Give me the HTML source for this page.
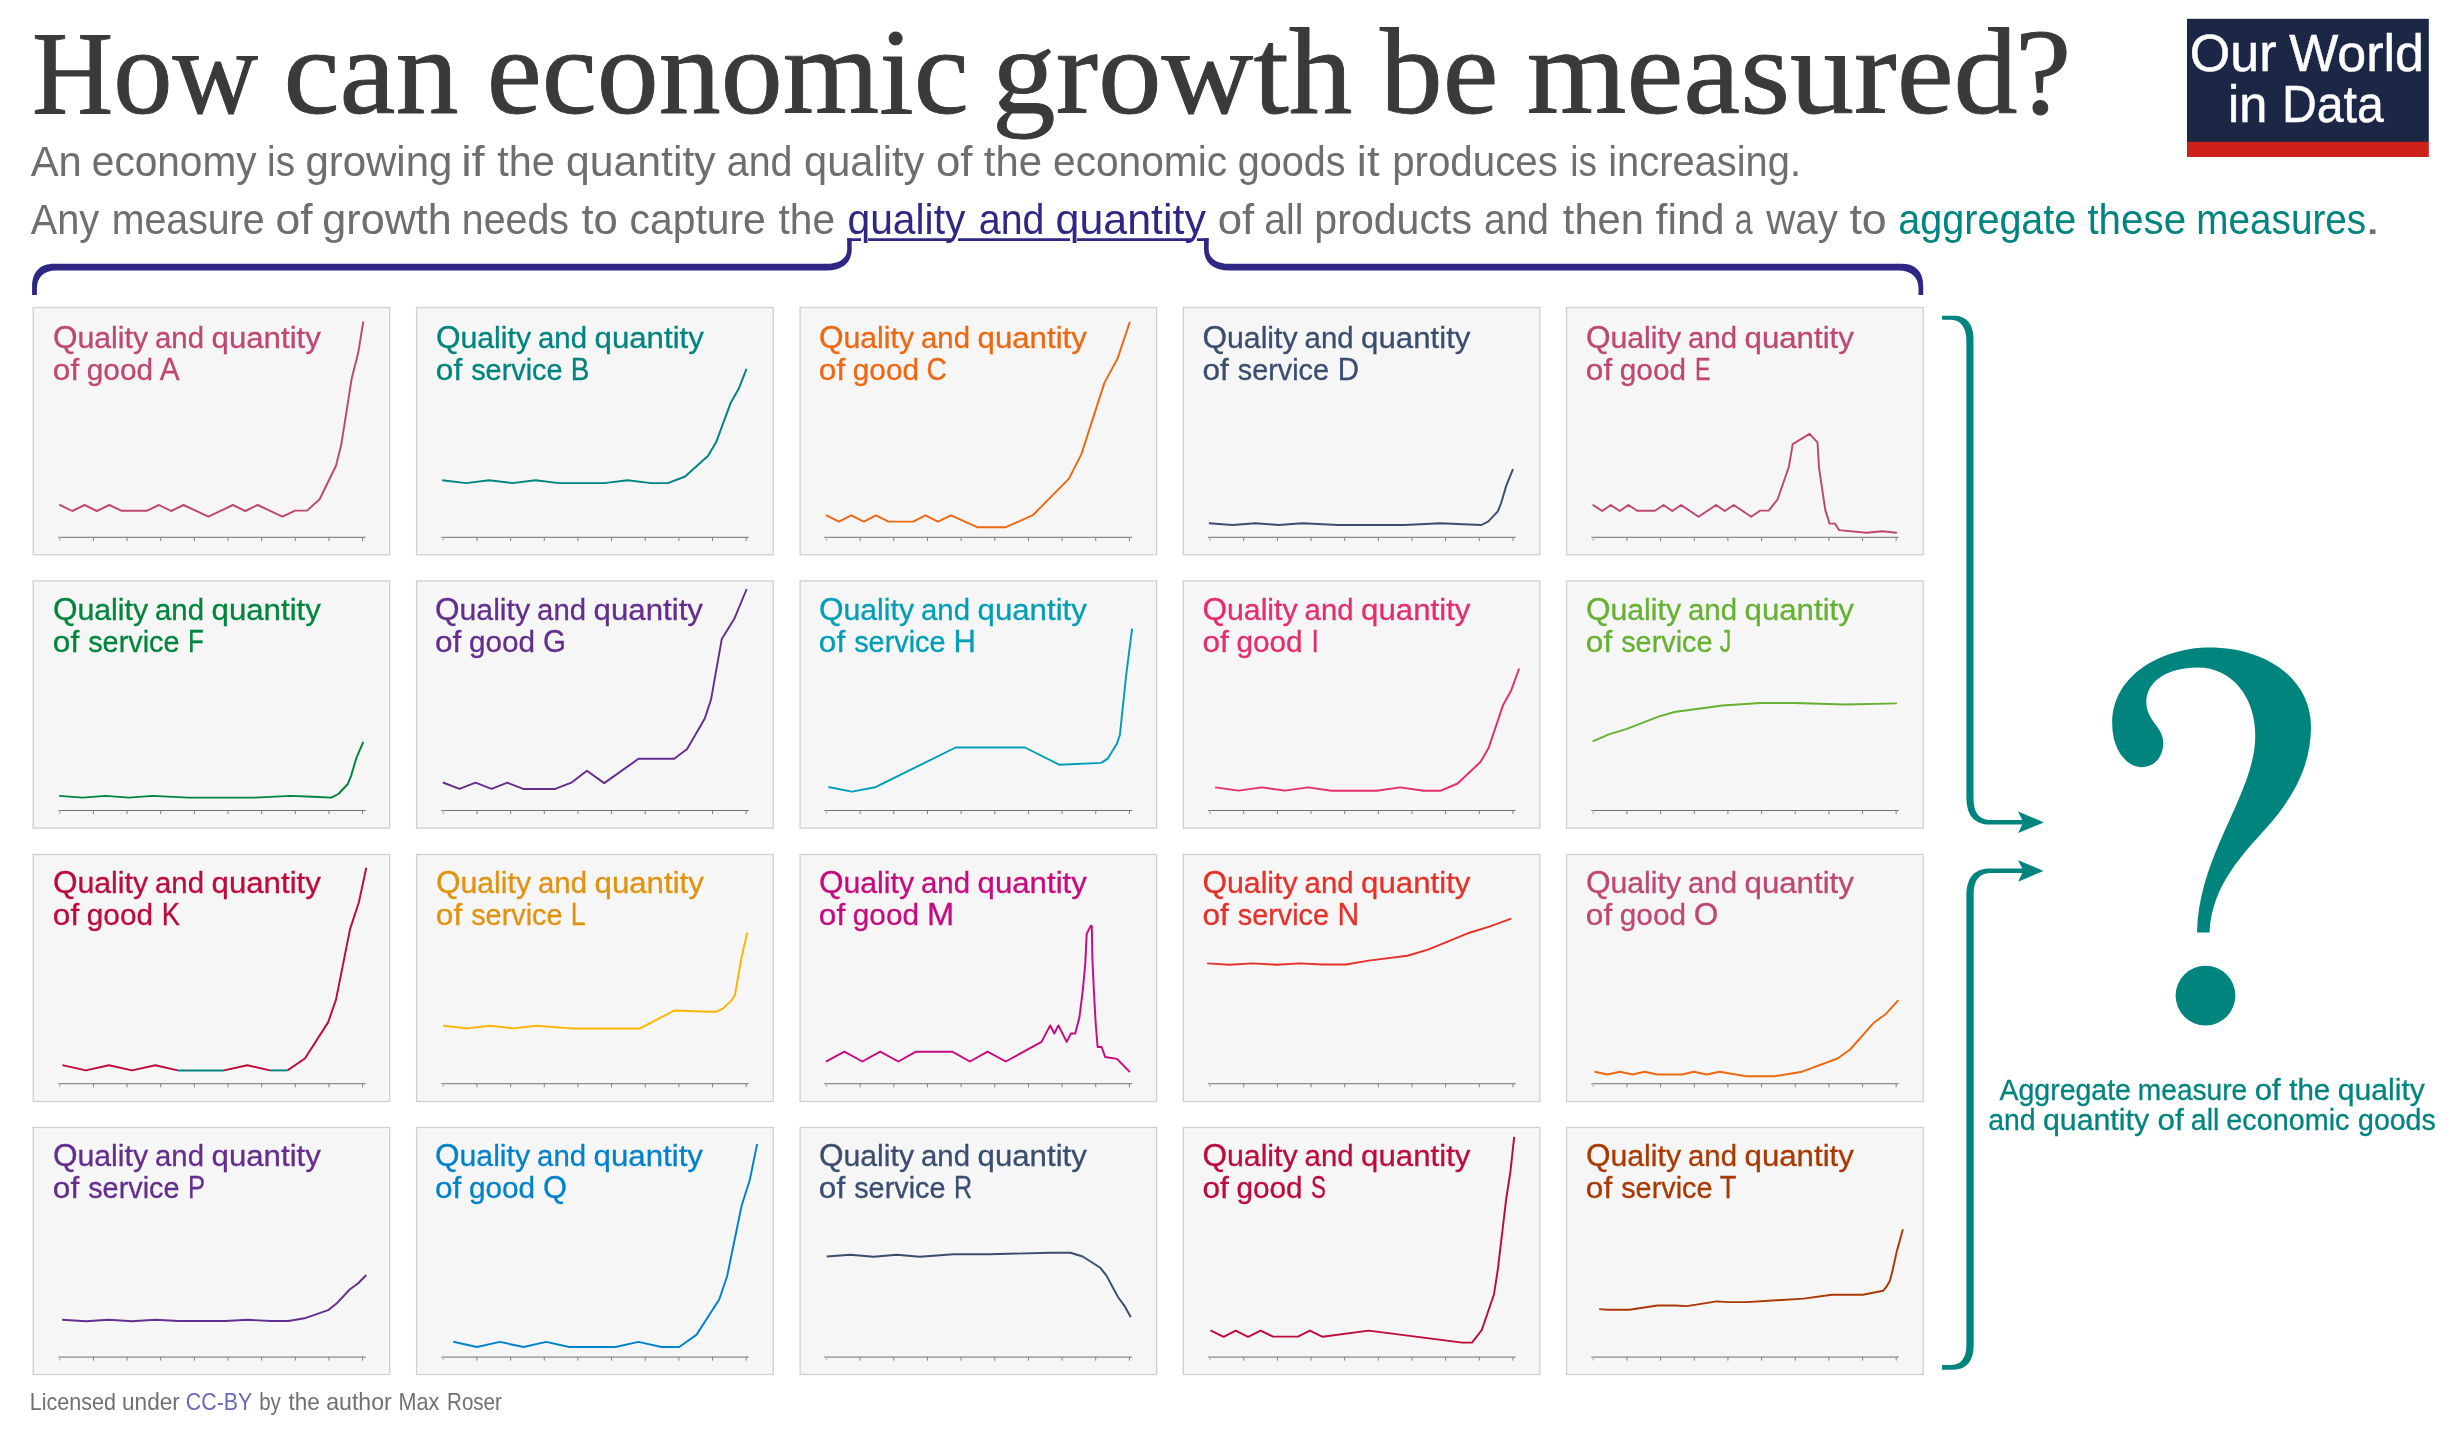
<!DOCTYPE html>
<html><head><meta charset="utf-8"><title>How can economic growth be measured?</title>
<style>
html,body{margin:0;padding:0;background:#ffffff;}
body{width:2454px;height:1433px;overflow:hidden;font-family:"Liberation Sans",sans-serif;}
svg{display:block;will-change:transform;}
text{white-space:pre;}
</style></head><body>
<svg width="2454" height="1433" viewBox="0 0 2454 1433">
<rect width="2454" height="1433" fill="#ffffff"/>
<text transform="translate(31.95,112.90) scale(0.9488,1)" font-family='"Liberation Serif", serif' font-size="118.6" font-weight="normal" fill="#3a3a3a" stroke="#3a3a3a" stroke-width="0.9" stroke-linejoin="round">H</text>
<text transform="translate(113.14,112.90) scale(0.9638,1)" font-family='"Liberation Serif", serif' font-size="123" font-weight="normal" fill="#3a3a3a" stroke="#3a3a3a" stroke-width="0.9" stroke-linejoin="round">ow</text>
<text transform="translate(283.50,112.90) scale(1.0255,1)" font-family='"Liberation Serif", serif' font-size="123" font-weight="normal" fill="#3a3a3a" stroke="#3a3a3a" stroke-width="0.9" stroke-linejoin="round">can</text>
<text transform="translate(486.67,112.90) scale(1.0086,1)" font-family='"Liberation Serif", serif' font-size="123" font-weight="normal" fill="#3a3a3a" stroke="#3a3a3a" stroke-width="0.9" stroke-linejoin="round">economic</text>
<text transform="translate(992.03,112.90) scale(1.0343,1)" font-family='"Liberation Serif", serif' font-size="123" font-weight="normal" fill="#3a3a3a" stroke="#3a3a3a" stroke-width="0.9" stroke-linejoin="round">growth</text>
<text transform="translate(1380.00,112.90) scale(1.0196,1)" font-family='"Liberation Serif", serif' font-size="123" font-weight="normal" fill="#3a3a3a" stroke="#3a3a3a" stroke-width="0.9" stroke-linejoin="round">be</text>
<text transform="translate(1526.82,112.90) scale(1.0415,1)" font-family='"Liberation Serif", serif' font-size="123" font-weight="normal" fill="#3a3a3a" stroke="#3a3a3a" stroke-width="0.9" stroke-linejoin="round">measured</text>
<text transform="translate(2015.01,112.90) scale(1.0318,1)" font-family='"Liberation Serif", serif' font-size="123" font-weight="normal" fill="#3a3a3a" stroke="#3a3a3a" stroke-width="0.9" stroke-linejoin="round">?</text>
<text transform="translate(30.70,175.80) scale(0.9956,1)" font-family='"Liberation Sans", sans-serif' font-size="42" font-weight="normal" fill="#6e6e6e" >An</text>
<text transform="translate(91.83,175.80) scale(0.9668,1)" font-family='"Liberation Sans", sans-serif' font-size="42" font-weight="normal" fill="#6e6e6e" >economy</text>
<text transform="translate(267.06,175.80) scale(0.9184,1)" font-family='"Liberation Sans", sans-serif' font-size="42" font-weight="normal" fill="#6e6e6e" >is</text>
<text transform="translate(305.40,175.80) scale(0.9991,1)" font-family='"Liberation Sans", sans-serif' font-size="42" font-weight="normal" fill="#6e6e6e" >growing</text>
<text transform="translate(461.15,175.80) scale(1.1225,1)" font-family='"Liberation Sans", sans-serif' font-size="42" font-weight="normal" fill="#6e6e6e" >if</text>
<text transform="translate(497.20,175.80) scale(0.9890,1)" font-family='"Liberation Sans", sans-serif' font-size="42" font-weight="normal" fill="#6e6e6e" >the</text>
<text transform="translate(565.98,175.80) scale(1.0178,1)" font-family='"Liberation Sans", sans-serif' font-size="42" font-weight="normal" fill="#6e6e6e" >quantity</text>
<text transform="translate(726.76,175.80) scale(0.9368,1)" font-family='"Liberation Sans", sans-serif' font-size="42" font-weight="normal" fill="#6e6e6e" >and</text>
<text transform="translate(804.01,175.80) scale(0.9908,1)" font-family='"Liberation Sans", sans-serif' font-size="42" font-weight="normal" fill="#6e6e6e" >quality</text>
<text transform="translate(935.96,175.80) scale(1.0420,1)" font-family='"Liberation Sans", sans-serif' font-size="42" font-weight="normal" fill="#6e6e6e" >of</text>
<text transform="translate(983.80,175.80) scale(0.9960,1)" font-family='"Liberation Sans", sans-serif' font-size="42" font-weight="normal" fill="#6e6e6e" >the</text>
<text transform="translate(1053.03,175.80) scale(0.9682,1)" font-family='"Liberation Sans", sans-serif' font-size="42" font-weight="normal" fill="#6e6e6e" >economic</text>
<text transform="translate(1237.86,175.80) scale(0.9419,1)" font-family='"Liberation Sans", sans-serif' font-size="42" font-weight="normal" fill="#6e6e6e" >goods</text>
<text transform="translate(1356.85,175.80) scale(1.0760,1)" font-family='"Liberation Sans", sans-serif' font-size="42" font-weight="normal" fill="#6e6e6e" >it</text>
<text transform="translate(1392.18,175.80) scale(0.9589,1)" font-family='"Liberation Sans", sans-serif' font-size="42" font-weight="normal" fill="#6e6e6e" >produces</text>
<text transform="translate(1570.24,175.80) scale(0.8781,1)" font-family='"Liberation Sans", sans-serif' font-size="42" font-weight="normal" fill="#6e6e6e" >is</text>
<text transform="translate(1608.20,175.80) scale(0.9497,1)" font-family='"Liberation Sans", sans-serif' font-size="42" font-weight="normal" fill="#6e6e6e" >increasing.</text>
<text transform="translate(30.70,233.60) scale(0.9465,1)" font-family='"Liberation Sans", sans-serif' font-size="42" font-weight="normal" fill="#6e6e6e" >Any</text>
<text transform="translate(111.73,233.60) scale(0.9353,1)" font-family='"Liberation Sans", sans-serif' font-size="42" font-weight="normal" fill="#6e6e6e" >measure</text>
<text transform="translate(275.54,233.60) scale(1.0594,1)" font-family='"Liberation Sans", sans-serif' font-size="42" font-weight="normal" fill="#6e6e6e" >of</text>
<text transform="translate(322.37,233.60) scale(1.0269,1)" font-family='"Liberation Sans", sans-serif' font-size="42" font-weight="normal" fill="#6e6e6e" >growth</text>
<text transform="translate(461.83,233.60) scale(0.9360,1)" font-family='"Liberation Sans", sans-serif' font-size="42" font-weight="normal" fill="#6e6e6e" >needs</text>
<text transform="translate(581.40,233.60) scale(1.0395,1)" font-family='"Liberation Sans", sans-serif' font-size="42" font-weight="normal" fill="#6e6e6e" >to</text>
<text transform="translate(629.53,233.60) scale(0.9729,1)" font-family='"Liberation Sans", sans-serif' font-size="42" font-weight="normal" fill="#6e6e6e" >capture</text>
<text transform="translate(778.50,233.60) scale(0.9680,1)" font-family='"Liberation Sans", sans-serif' font-size="42" font-weight="normal" fill="#6e6e6e" >the</text>
<text transform="translate(847.53,233.60) scale(0.9709,1)" font-family='"Liberation Sans", sans-serif' font-size="42" font-weight="normal" fill="#2f2784" >quality</text>
<text transform="translate(978.86,233.60) scale(0.9368,1)" font-family='"Liberation Sans", sans-serif' font-size="42" font-weight="normal" fill="#2f2784" >and</text>
<text transform="translate(1055.58,233.60) scale(1.0226,1)" font-family='"Liberation Sans", sans-serif' font-size="42" font-weight="normal" fill="#2f2784" >quantity</text>
<text transform="translate(1217.66,233.60) scale(1.0420,1)" font-family='"Liberation Sans", sans-serif' font-size="42" font-weight="normal" fill="#6e6e6e" >of</text>
<text transform="translate(1264.27,233.60) scale(0.9305,1)" font-family='"Liberation Sans", sans-serif' font-size="42" font-weight="normal" fill="#6e6e6e" >all</text>
<text transform="translate(1314.34,233.60) scale(0.9786,1)" font-family='"Liberation Sans", sans-serif' font-size="42" font-weight="normal" fill="#6e6e6e" >products</text>
<text transform="translate(1484.07,233.60) scale(0.9263,1)" font-family='"Liberation Sans", sans-serif' font-size="42" font-weight="normal" fill="#6e6e6e" >and</text>
<text transform="translate(1562.80,233.60) scale(0.9926,1)" font-family='"Liberation Sans", sans-serif' font-size="42" font-weight="normal" fill="#6e6e6e" >then</text>
<text transform="translate(1655.60,233.60) scale(1.0190,1)" font-family='"Liberation Sans", sans-serif' font-size="42" font-weight="normal" fill="#6e6e6e" >find</text>
<text transform="translate(1734.73,233.60) scale(0.7652,1)" font-family='"Liberation Sans", sans-serif' font-size="42" font-weight="normal" fill="#6e6e6e" >a</text>
<text transform="translate(1766.26,233.60) scale(0.9592,1)" font-family='"Liberation Sans", sans-serif' font-size="42" font-weight="normal" fill="#6e6e6e" >way</text>
<text transform="translate(1849.40,233.60) scale(1.0633,1)" font-family='"Liberation Sans", sans-serif' font-size="42" font-weight="normal" fill="#6e6e6e" >to</text>
<text transform="translate(1898.26,233.60) scale(0.9416,1)" font-family='"Liberation Sans", sans-serif' font-size="42" font-weight="normal" fill="#00847e" >aggregate</text>
<text transform="translate(2087.40,233.60) scale(0.9607,1)" font-family='"Liberation Sans", sans-serif' font-size="42" font-weight="normal" fill="#00847e" >these</text>
<text transform="translate(2196.26,233.60) scale(0.9217,1)" font-family='"Liberation Sans", sans-serif' font-size="42" font-weight="normal" fill="#00847e" >measures</text>
<text transform="translate(2364.60,233.60) scale(1.4000,1)" font-family='"Liberation Sans", sans-serif' font-size="42" font-weight="normal" fill="#6e6e6e" >.</text>
<path d="M847.2,239.6 H861 M868,239.6 H951 M958,239.6 H1070 M1077,239.6 H1191 M1197,239.6 H1208.6" stroke="#2f2784" stroke-width="2.6" fill="none"/>
<path fill="#2f2784" d="M32.1,294.9 V286.6 C32.1,272 40,263.8 54.2,263.8 H826.9 C840,263.8 847.2,258 847.2,249 V238.3 H851.7 V249 C851.7,264 841,270.5 826.9,270.5 H56.1 C44,270.5 36.85,277 36.85,289.1 V294.9 Z"/>
<path fill="#2f2784" d="M1923.2,294.9 V285.2 C1923.2,271 1915,263.8 1901.3,263.8 H1229 C1216,263.8 1208.7,258 1208.7,249 V238.3 H1204 V249 C1204,264 1215,270.5 1229,270.5 H1898.9 C1911,270.5 1918.5,277 1918.5,288.1 V294.9 Z"/>
<rect x="2187" y="18.8" width="241.8" height="123.2" fill="#1c2746"/>
<rect x="2187" y="141.8" width="241.8" height="15.2" fill="#ce2019"/>
<text transform="translate(2189.86,71.20) scale(1.0189,1)" font-family='"Liberation Sans", sans-serif' font-size="51" font-weight="normal" fill="#ffffff" stroke="#ffffff" stroke-width="0.5">Our</text>
<text transform="translate(2289.20,71.20) scale(1.0193,1)" font-family='"Liberation Sans", sans-serif' font-size="51" font-weight="normal" fill="#ffffff" stroke="#ffffff" stroke-width="0.5">World</text>
<text transform="translate(2228.03,122.20) scale(0.9904,1)" font-family='"Liberation Sans", sans-serif' font-size="51" font-weight="normal" fill="#ffffff" stroke="#ffffff" stroke-width="0.5">in</text>
<text transform="translate(2281.92,122.20) scale(0.9457,1)" font-family='"Liberation Sans", sans-serif' font-size="51" font-weight="normal" fill="#ffffff" stroke="#ffffff" stroke-width="0.5">Data</text>
<rect x="33.19" y="307.54" width="356.48" height="247.20" fill="#f6f6f6" stroke="#d0d0d0" stroke-width="1.3"/>
<path d="M58.25,537.40 H365.74" stroke="#8c8c8c" stroke-width="1.3" fill="none"/>
<path d="M93.41,537.40 v3.6 M127.06,537.40 v3.6 M160.71,537.40 v3.6 M194.36,537.40 v3.6 M228.01,537.40 v3.6 M261.66,537.40 v3.6 M295.31,537.40 v3.6 M328.96,537.40 v3.6 M362.61,537.40 v3.6 " stroke="#808080" stroke-width="1" fill="none"/>
<path d="M59.76,537.40 v3.4" stroke="#c0c0c0" stroke-width="1.5" fill="none"/>
<path d="M59.2,504.6 L72.2,511.0 L84.6,505.0 L96.9,511.0 L109.3,505.0 L121.7,510.8 L146.6,510.8 L158.9,505.0 L171.1,511.0 L183.5,505.0 L208.4,516.7 L232.9,505.0 L245.2,511.0 L257.6,505.0 L282.5,516.7 L295.1,510.6 L307.1,510.6 L319.6,499.3 L336.0,465.8 L341.2,445.1 L351.6,379.1 L358.2,352.8 L363.3,321.7" stroke="#BE4870" stroke-width="1.95" fill="none" stroke-linejoin="round" stroke-linecap="butt"/>
<text transform="translate(52.90,347.95) scale(1.0106,1)" font-family='"Liberation Sans", sans-serif' font-size="31.3" font-weight="normal" fill="#BE4870" stroke="#BE4870" stroke-width="0.3">Q</text>
<text transform="translate(77.40,347.95) scale(1.0098,1)" font-family='"Liberation Sans", sans-serif' font-size="30" font-weight="normal" fill="#BE4870" stroke="#BE4870" stroke-width="0.3">uality</text>
<text transform="translate(155.06,347.95) scale(0.9785,1)" font-family='"Liberation Sans", sans-serif' font-size="30" font-weight="normal" fill="#BE4870" stroke="#BE4870" stroke-width="0.3">and</text>
<text transform="translate(211.52,347.95) scale(1.0410,1)" font-family='"Liberation Sans", sans-serif' font-size="30" font-weight="normal" fill="#BE4870" stroke="#BE4870" stroke-width="0.3">quantity</text>
<text transform="translate(52.86,379.85) scale(1.0533,1)" font-family='"Liberation Sans", sans-serif' font-size="30" font-weight="normal" fill="#BE4870" stroke="#BE4870" stroke-width="0.3">of</text>
<text transform="translate(86.84,379.85) scale(0.9913,1)" font-family='"Liberation Sans", sans-serif' font-size="30" font-weight="normal" fill="#BE4870" stroke="#BE4870" stroke-width="0.3">good</text>
<text transform="translate(159.80,379.85) scale(0.9510,1)" font-family='"Liberation Sans", sans-serif' font-size="31.3" font-weight="normal" fill="#BE4870" stroke="#BE4870" stroke-width="0.3">A</text>
<rect x="416.57" y="307.54" width="356.67" height="247.20" fill="#f6f6f6" stroke="#d0d0d0" stroke-width="1.3"/>
<path d="M441.25,537.40 H748.74" stroke="#8c8c8c" stroke-width="1.3" fill="none"/>
<path d="M476.97,537.40 v3.6 M510.62,537.40 v3.6 M544.27,537.40 v3.6 M577.92,537.40 v3.6 M611.57,537.40 v3.6 M645.22,537.40 v3.6 M678.87,537.40 v3.6 M712.52,537.40 v3.6 M746.17,537.40 v3.6 " stroke="#808080" stroke-width="1" fill="none"/>
<path d="M443.32,537.40 v3.4" stroke="#c0c0c0" stroke-width="1.5" fill="none"/>
<path d="M442.2,480.3 L466.1,483.1 L489.1,480.3 L512.3,483.1 L535.5,480.3 L559.0,483.1 L604.2,483.1 L627.6,480.3 L651.3,483.1 L667.9,483.1 L685.1,476.5 L707.9,456.0 L716.1,442.3 L730.5,403.3 L738.8,388.6 L746.5,368.8" stroke="#00847E" stroke-width="1.95" fill="none" stroke-linejoin="round" stroke-linecap="butt"/>
<text transform="translate(435.90,347.95) scale(1.0106,1)" font-family='"Liberation Sans", sans-serif' font-size="31.3" font-weight="normal" fill="#00847E" stroke="#00847E" stroke-width="0.3">Q</text>
<text transform="translate(460.40,347.95) scale(1.0098,1)" font-family='"Liberation Sans", sans-serif' font-size="30" font-weight="normal" fill="#00847E" stroke="#00847E" stroke-width="0.3">uality</text>
<text transform="translate(538.06,347.95) scale(0.9785,1)" font-family='"Liberation Sans", sans-serif' font-size="30" font-weight="normal" fill="#00847E" stroke="#00847E" stroke-width="0.3">and</text>
<text transform="translate(594.52,347.95) scale(1.0410,1)" font-family='"Liberation Sans", sans-serif' font-size="30" font-weight="normal" fill="#00847E" stroke="#00847E" stroke-width="0.3">quantity</text>
<text transform="translate(435.86,379.85) scale(1.0533,1)" font-family='"Liberation Sans", sans-serif' font-size="30" font-weight="normal" fill="#00847E" stroke="#00847E" stroke-width="0.3">of</text>
<text transform="translate(471.21,379.85) scale(0.9606,1)" font-family='"Liberation Sans", sans-serif' font-size="30" font-weight="normal" fill="#00847E" stroke="#00847E" stroke-width="0.3">service</text>
<text transform="translate(570.79,379.85) scale(0.8897,1)" font-family='"Liberation Sans", sans-serif' font-size="31.3" font-weight="normal" fill="#00847E" stroke="#00847E" stroke-width="0.3">B</text>
<rect x="800.13" y="307.54" width="356.48" height="247.20" fill="#f6f6f6" stroke="#d0d0d0" stroke-width="1.3"/>
<path d="M824.25,537.40 H1132.11" stroke="#8c8c8c" stroke-width="1.3" fill="none"/>
<path d="M860.16,537.40 v3.6 M893.81,537.40 v3.6 M927.46,537.40 v3.6 M961.11,537.40 v3.6 M994.76,537.40 v3.6 M1028.41,537.40 v3.6 M1062.06,537.40 v3.6 M1095.71,537.40 v3.6 M1129.36,537.40 v3.6 " stroke="#808080" stroke-width="1" fill="none"/>
<path d="M826.51,537.40 v3.4" stroke="#c0c0c0" stroke-width="1.5" fill="none"/>
<path d="M825.9,515.2 L838.9,521.6 L851.2,515.4 L863.8,521.6 L876.1,515.4 L888.5,521.6 L913.2,521.6 L925.4,515.4 L937.9,521.6 L951.0,515.4 L977.2,527.2 L1005.9,527.2 L1032.8,515.2 L1069.0,478.6 L1081.4,454.1 L1104.4,382.9 L1117.6,358.4 L1129.9,321.7" stroke="#EC6812" stroke-width="1.95" fill="none" stroke-linejoin="round" stroke-linecap="butt"/>
<text transform="translate(818.90,347.95) scale(1.0106,1)" font-family='"Liberation Sans", sans-serif' font-size="31.3" font-weight="normal" fill="#EC6812" stroke="#EC6812" stroke-width="0.3">Q</text>
<text transform="translate(843.40,347.95) scale(1.0098,1)" font-family='"Liberation Sans", sans-serif' font-size="30" font-weight="normal" fill="#EC6812" stroke="#EC6812" stroke-width="0.3">uality</text>
<text transform="translate(921.06,347.95) scale(0.9785,1)" font-family='"Liberation Sans", sans-serif' font-size="30" font-weight="normal" fill="#EC6812" stroke="#EC6812" stroke-width="0.3">and</text>
<text transform="translate(977.52,347.95) scale(1.0410,1)" font-family='"Liberation Sans", sans-serif' font-size="30" font-weight="normal" fill="#EC6812" stroke="#EC6812" stroke-width="0.3">quantity</text>
<text transform="translate(818.86,379.85) scale(1.0533,1)" font-family='"Liberation Sans", sans-serif' font-size="30" font-weight="normal" fill="#EC6812" stroke="#EC6812" stroke-width="0.3">of</text>
<text transform="translate(852.84,379.85) scale(0.9913,1)" font-family='"Liberation Sans", sans-serif' font-size="30" font-weight="normal" fill="#EC6812" stroke="#EC6812" stroke-width="0.3">good</text>
<text transform="translate(926.41,379.85) scale(0.8972,1)" font-family='"Liberation Sans", sans-serif' font-size="31.3" font-weight="normal" fill="#EC6812" stroke="#EC6812" stroke-width="0.3">C</text>
<rect x="1183.32" y="307.54" width="356.48" height="247.20" fill="#f6f6f6" stroke="#d0d0d0" stroke-width="1.3"/>
<path d="M1207.81,537.40 H1515.68" stroke="#8c8c8c" stroke-width="1.3" fill="none"/>
<path d="M1243.72,537.40 v3.6 M1277.37,537.40 v3.6 M1311.03,537.40 v3.6 M1344.68,537.40 v3.6 M1378.33,537.40 v3.6 M1411.98,537.40 v3.6 M1445.63,537.40 v3.6 M1479.28,537.40 v3.6 M1512.93,537.40 v3.6 " stroke="#808080" stroke-width="1" fill="none"/>
<path d="M1210.07,537.40 v3.4" stroke="#c0c0c0" stroke-width="1.5" fill="none"/>
<path d="M1208.9,523.3 L1232.5,525.0 L1255.7,523.3 L1278.8,525.0 L1302.0,523.3 L1338.6,525.0 L1404.5,525.0 L1440.3,523.3 L1462.9,524.2 L1481.4,525.0 L1488.4,521.4 L1497.8,511.4 L1501.0,503.5 L1506.3,485.6 L1513.0,469.2" stroke="#3B4D6E" stroke-width="1.95" fill="none" stroke-linejoin="round" stroke-linecap="butt"/>
<text transform="translate(1202.47,347.95) scale(1.0106,1)" font-family='"Liberation Sans", sans-serif' font-size="31.3" font-weight="normal" fill="#3B4D6E" stroke="#3B4D6E" stroke-width="0.3">Q</text>
<text transform="translate(1226.96,347.95) scale(1.0098,1)" font-family='"Liberation Sans", sans-serif' font-size="30" font-weight="normal" fill="#3B4D6E" stroke="#3B4D6E" stroke-width="0.3">uality</text>
<text transform="translate(1304.62,347.95) scale(0.9785,1)" font-family='"Liberation Sans", sans-serif' font-size="30" font-weight="normal" fill="#3B4D6E" stroke="#3B4D6E" stroke-width="0.3">and</text>
<text transform="translate(1361.08,347.95) scale(1.0410,1)" font-family='"Liberation Sans", sans-serif' font-size="30" font-weight="normal" fill="#3B4D6E" stroke="#3B4D6E" stroke-width="0.3">quantity</text>
<text transform="translate(1202.43,379.85) scale(1.0533,1)" font-family='"Liberation Sans", sans-serif' font-size="30" font-weight="normal" fill="#3B4D6E" stroke="#3B4D6E" stroke-width="0.3">of</text>
<text transform="translate(1237.77,379.85) scale(0.9606,1)" font-family='"Liberation Sans", sans-serif' font-size="30" font-weight="normal" fill="#3B4D6E" stroke="#3B4D6E" stroke-width="0.3">service</text>
<text transform="translate(1337.63,379.85) scale(0.9421,1)" font-family='"Liberation Sans", sans-serif' font-size="31.3" font-weight="normal" fill="#3B4D6E" stroke="#3B4D6E" stroke-width="0.3">D</text>
<rect x="1566.57" y="307.54" width="356.67" height="247.20" fill="#f6f6f6" stroke="#d0d0d0" stroke-width="1.3"/>
<path d="M1591.25,537.40 H1898.74" stroke="#8c8c8c" stroke-width="1.3" fill="none"/>
<path d="M1626.97,537.40 v3.6 M1660.62,537.40 v3.6 M1694.27,537.40 v3.6 M1727.92,537.40 v3.6 M1761.57,537.40 v3.6 M1795.22,537.40 v3.6 M1828.87,537.40 v3.6 M1862.52,537.40 v3.6 M1896.17,537.40 v3.6 " stroke="#808080" stroke-width="1" fill="none"/>
<path d="M1593.32,537.40 v3.4" stroke="#c0c0c0" stroke-width="1.5" fill="none"/>
<path d="M1592.6,504.8 L1602.2,511.0 L1610.8,505.0 L1619.7,511.0 L1628.4,505.0 L1637.2,510.8 L1654.9,510.8 L1663.6,505.0 L1672.3,511.0 L1681.1,505.0 L1698.5,516.7 L1716.2,505.0 L1724.8,511.0 L1733.7,505.0 L1751.2,516.7 L1760.1,510.6 L1768.7,510.6 L1777.6,499.3 L1788.9,466.7 L1792.7,444.1 L1809.6,433.8 L1817.5,442.3 L1819.0,467.7 L1825.3,510.1 L1829.6,523.6 L1834.9,523.6 L1839.0,530.1 L1866.7,532.7 L1881.8,531.2 L1896.9,532.7" stroke="#BE4870" stroke-width="1.95" fill="none" stroke-linejoin="round" stroke-linecap="butt"/>
<text transform="translate(1585.90,347.95) scale(1.0106,1)" font-family='"Liberation Sans", sans-serif' font-size="31.3" font-weight="normal" fill="#BE4870" stroke="#BE4870" stroke-width="0.3">Q</text>
<text transform="translate(1610.40,347.95) scale(1.0098,1)" font-family='"Liberation Sans", sans-serif' font-size="30" font-weight="normal" fill="#BE4870" stroke="#BE4870" stroke-width="0.3">uality</text>
<text transform="translate(1688.06,347.95) scale(0.9785,1)" font-family='"Liberation Sans", sans-serif' font-size="30" font-weight="normal" fill="#BE4870" stroke="#BE4870" stroke-width="0.3">and</text>
<text transform="translate(1744.52,347.95) scale(1.0410,1)" font-family='"Liberation Sans", sans-serif' font-size="30" font-weight="normal" fill="#BE4870" stroke="#BE4870" stroke-width="0.3">quantity</text>
<text transform="translate(1585.86,379.85) scale(1.0533,1)" font-family='"Liberation Sans", sans-serif' font-size="30" font-weight="normal" fill="#BE4870" stroke="#BE4870" stroke-width="0.3">of</text>
<text transform="translate(1619.84,379.85) scale(0.9913,1)" font-family='"Liberation Sans", sans-serif' font-size="30" font-weight="normal" fill="#BE4870" stroke="#BE4870" stroke-width="0.3">good</text>
<text transform="translate(1695.08,379.85) scale(0.7432,1)" font-family='"Liberation Sans", sans-serif' font-size="31.3" font-weight="normal" fill="#BE4870" stroke="#BE4870" stroke-width="0.3">E</text>
<rect x="33.19" y="580.91" width="356.48" height="247.20" fill="#f6f6f6" stroke="#d0d0d0" stroke-width="1.3"/>
<path d="M58.25,810.50 H365.74" stroke="#707070" stroke-width="1.1" fill="none"/>
<path d="M93.41,810.50 v3.6 M127.06,810.50 v3.6 M160.71,810.50 v3.6 M194.36,810.50 v3.6 M228.01,810.50 v3.6 M261.66,810.50 v3.6 M295.31,810.50 v3.6 M328.96,810.50 v3.6 M362.61,810.50 v3.6 " stroke="#808080" stroke-width="1" fill="none"/>
<path d="M59.76,810.50 v3.4" stroke="#c0c0c0" stroke-width="1.5" fill="none"/>
<path d="M59.2,795.9 L82.6,797.6 L105.7,795.9 L128.9,797.6 L152.5,795.9 L188.6,797.6 L254.6,797.6 L290.4,795.9 L313.0,796.8 L331.3,797.6 L338.4,794.0 L347.8,784.0 L351.0,776.1 L356.3,758.2 L363.3,741.8" stroke="#00853E" stroke-width="1.95" fill="none" stroke-linejoin="round" stroke-linecap="butt"/>
<text transform="translate(52.90,620.20) scale(1.0106,1)" font-family='"Liberation Sans", sans-serif' font-size="31.3" font-weight="normal" fill="#00853E" stroke="#00853E" stroke-width="0.3">Q</text>
<text transform="translate(77.40,620.20) scale(1.0098,1)" font-family='"Liberation Sans", sans-serif' font-size="30" font-weight="normal" fill="#00853E" stroke="#00853E" stroke-width="0.3">uality</text>
<text transform="translate(155.06,620.20) scale(0.9785,1)" font-family='"Liberation Sans", sans-serif' font-size="30" font-weight="normal" fill="#00853E" stroke="#00853E" stroke-width="0.3">and</text>
<text transform="translate(211.52,620.20) scale(1.0410,1)" font-family='"Liberation Sans", sans-serif' font-size="30" font-weight="normal" fill="#00853E" stroke="#00853E" stroke-width="0.3">quantity</text>
<text transform="translate(52.86,652.10) scale(1.0533,1)" font-family='"Liberation Sans", sans-serif' font-size="30" font-weight="normal" fill="#00853E" stroke="#00853E" stroke-width="0.3">of</text>
<text transform="translate(88.21,652.10) scale(0.9606,1)" font-family='"Liberation Sans", sans-serif' font-size="30" font-weight="normal" fill="#00853E" stroke="#00853E" stroke-width="0.3">service</text>
<text transform="translate(187.92,652.10) scale(0.8243,1)" font-family='"Liberation Sans", sans-serif' font-size="31.3" font-weight="normal" fill="#00853E" stroke="#00853E" stroke-width="0.3">F</text>
<rect x="416.57" y="580.91" width="356.67" height="247.20" fill="#f6f6f6" stroke="#d0d0d0" stroke-width="1.3"/>
<path d="M441.25,810.50 H748.74" stroke="#707070" stroke-width="1.1" fill="none"/>
<path d="M476.97,810.50 v3.6 M510.62,810.50 v3.6 M544.27,810.50 v3.6 M577.92,810.50 v3.6 M611.57,810.50 v3.6 M645.22,810.50 v3.6 M678.87,810.50 v3.6 M712.52,810.50 v3.6 M746.17,810.50 v3.6 " stroke="#808080" stroke-width="1" fill="none"/>
<path d="M443.32,810.50 v3.4" stroke="#c0c0c0" stroke-width="1.5" fill="none"/>
<path d="M442.9,782.5 L459.5,788.9 L475.5,782.7 L491.6,788.9 L507.4,782.7 L523.2,788.9 L555.2,788.9 L571.3,782.7 L586.9,770.8 L604.2,783.1 L638.5,758.8 L674.3,758.8 L687.1,749.0 L704.8,718.5 L711.1,699.2 L721.8,638.9 L734.6,618.2 L746.7,589.0" stroke="#642E8E" stroke-width="1.95" fill="none" stroke-linejoin="round" stroke-linecap="butt"/>
<text transform="translate(434.96,620.20) scale(1.0106,1)" font-family='"Liberation Sans", sans-serif' font-size="31.3" font-weight="normal" fill="#642E8E" stroke="#642E8E" stroke-width="0.3">Q</text>
<text transform="translate(459.46,620.20) scale(1.0098,1)" font-family='"Liberation Sans", sans-serif' font-size="30" font-weight="normal" fill="#642E8E" stroke="#642E8E" stroke-width="0.3">uality</text>
<text transform="translate(537.11,620.20) scale(0.9785,1)" font-family='"Liberation Sans", sans-serif' font-size="30" font-weight="normal" fill="#642E8E" stroke="#642E8E" stroke-width="0.3">and</text>
<text transform="translate(593.57,620.20) scale(1.0410,1)" font-family='"Liberation Sans", sans-serif' font-size="30" font-weight="normal" fill="#642E8E" stroke="#642E8E" stroke-width="0.3">quantity</text>
<text transform="translate(434.92,652.10) scale(1.0533,1)" font-family='"Liberation Sans", sans-serif' font-size="30" font-weight="normal" fill="#642E8E" stroke="#642E8E" stroke-width="0.3">of</text>
<text transform="translate(468.90,652.10) scale(0.9913,1)" font-family='"Liberation Sans", sans-serif' font-size="30" font-weight="normal" fill="#642E8E" stroke="#642E8E" stroke-width="0.3">good</text>
<text transform="translate(542.99,652.10) scale(0.9421,1)" font-family='"Liberation Sans", sans-serif' font-size="31.3" font-weight="normal" fill="#642E8E" stroke="#642E8E" stroke-width="0.3">G</text>
<rect x="800.13" y="580.91" width="356.48" height="247.20" fill="#f6f6f6" stroke="#d0d0d0" stroke-width="1.3"/>
<path d="M824.25,810.50 H1132.11" stroke="#707070" stroke-width="1.1" fill="none"/>
<path d="M860.16,810.50 v3.6 M893.81,810.50 v3.6 M927.46,810.50 v3.6 M961.11,810.50 v3.6 M994.76,810.50 v3.6 M1028.41,810.50 v3.6 M1062.06,810.50 v3.6 M1095.71,810.50 v3.6 M1129.36,810.50 v3.6 " stroke="#808080" stroke-width="1" fill="none"/>
<path d="M826.51,810.50 v3.4" stroke="#c0c0c0" stroke-width="1.5" fill="none"/>
<path d="M828.4,787.0 L851.9,791.6 L875.5,787.2 L955.6,747.5 L1024.9,747.5 L1059.6,764.8 L1101.2,762.9 L1107.8,758.6 L1117.0,743.5 L1119.9,734.7 L1126.1,675.7 L1132.1,628.6" stroke="#019EB7" stroke-width="1.95" fill="none" stroke-linejoin="round" stroke-linecap="butt"/>
<text transform="translate(818.90,620.20) scale(1.0106,1)" font-family='"Liberation Sans", sans-serif' font-size="31.3" font-weight="normal" fill="#019EB7" stroke="#019EB7" stroke-width="0.3">Q</text>
<text transform="translate(843.40,620.20) scale(1.0098,1)" font-family='"Liberation Sans", sans-serif' font-size="30" font-weight="normal" fill="#019EB7" stroke="#019EB7" stroke-width="0.3">uality</text>
<text transform="translate(921.06,620.20) scale(0.9785,1)" font-family='"Liberation Sans", sans-serif' font-size="30" font-weight="normal" fill="#019EB7" stroke="#019EB7" stroke-width="0.3">and</text>
<text transform="translate(977.52,620.20) scale(1.0410,1)" font-family='"Liberation Sans", sans-serif' font-size="30" font-weight="normal" fill="#019EB7" stroke="#019EB7" stroke-width="0.3">quantity</text>
<text transform="translate(818.86,652.10) scale(1.0533,1)" font-family='"Liberation Sans", sans-serif' font-size="30" font-weight="normal" fill="#019EB7" stroke="#019EB7" stroke-width="0.3">of</text>
<text transform="translate(854.21,652.10) scale(0.9606,1)" font-family='"Liberation Sans", sans-serif' font-size="30" font-weight="normal" fill="#019EB7" stroke="#019EB7" stroke-width="0.3">service</text>
<text transform="translate(953.59,652.10) scale(0.9916,1)" font-family='"Liberation Sans", sans-serif' font-size="31.3" font-weight="normal" fill="#019EB7" stroke="#019EB7" stroke-width="0.3">H</text>
<rect x="1183.32" y="580.91" width="356.48" height="247.20" fill="#f6f6f6" stroke="#d0d0d0" stroke-width="1.3"/>
<path d="M1207.81,810.50 H1515.68" stroke="#707070" stroke-width="1.1" fill="none"/>
<path d="M1243.72,810.50 v3.6 M1277.37,810.50 v3.6 M1311.03,810.50 v3.6 M1344.68,810.50 v3.6 M1378.33,810.50 v3.6 M1411.98,810.50 v3.6 M1445.63,810.50 v3.6 M1479.28,810.50 v3.6 M1512.93,810.50 v3.6 " stroke="#808080" stroke-width="1" fill="none"/>
<path d="M1210.07,810.50 v3.4" stroke="#c0c0c0" stroke-width="1.5" fill="none"/>
<path d="M1215.2,787.4 L1238.7,790.6 L1261.7,787.4 L1284.9,790.6 L1308.0,787.4 L1331.6,790.8 L1376.8,790.8 L1400.2,787.4 L1423.7,790.8 L1440.3,790.8 L1457.6,783.5 L1480.4,762.0 L1488.7,747.7 L1503.1,704.9 L1511.3,690.2 L1519.1,668.5" stroke="#E42E6B" stroke-width="1.95" fill="none" stroke-linejoin="round" stroke-linecap="butt"/>
<text transform="translate(1202.47,620.20) scale(1.0106,1)" font-family='"Liberation Sans", sans-serif' font-size="31.3" font-weight="normal" fill="#E42E6B" stroke="#E42E6B" stroke-width="0.3">Q</text>
<text transform="translate(1226.96,620.20) scale(1.0098,1)" font-family='"Liberation Sans", sans-serif' font-size="30" font-weight="normal" fill="#E42E6B" stroke="#E42E6B" stroke-width="0.3">uality</text>
<text transform="translate(1304.62,620.20) scale(0.9785,1)" font-family='"Liberation Sans", sans-serif' font-size="30" font-weight="normal" fill="#E42E6B" stroke="#E42E6B" stroke-width="0.3">and</text>
<text transform="translate(1361.08,620.20) scale(1.0410,1)" font-family='"Liberation Sans", sans-serif' font-size="30" font-weight="normal" fill="#E42E6B" stroke="#E42E6B" stroke-width="0.3">quantity</text>
<text transform="translate(1202.43,652.10) scale(1.0533,1)" font-family='"Liberation Sans", sans-serif' font-size="30" font-weight="normal" fill="#E42E6B" stroke="#E42E6B" stroke-width="0.3">of</text>
<text transform="translate(1236.40,652.10) scale(0.9913,1)" font-family='"Liberation Sans", sans-serif' font-size="30" font-weight="normal" fill="#E42E6B" stroke="#E42E6B" stroke-width="0.3">good</text>
<text transform="translate(1311.44,652.10) scale(0.8479,1)" font-family='"Liberation Sans", sans-serif' font-size="31.3" font-weight="normal" fill="#E42E6B" stroke="#E42E6B" stroke-width="0.3">I</text>
<rect x="1566.57" y="580.91" width="356.67" height="247.20" fill="#f6f6f6" stroke="#d0d0d0" stroke-width="1.3"/>
<path d="M1591.25,810.50 H1898.74" stroke="#707070" stroke-width="1.1" fill="none"/>
<path d="M1626.97,810.50 v3.6 M1660.62,810.50 v3.6 M1694.27,810.50 v3.6 M1727.92,810.50 v3.6 M1761.57,810.50 v3.6 M1795.22,810.50 v3.6 M1828.87,810.50 v3.6 M1862.52,810.50 v3.6 M1896.17,810.50 v3.6 " stroke="#808080" stroke-width="1" fill="none"/>
<path d="M1593.32,810.50 v3.4" stroke="#c0c0c0" stroke-width="1.5" fill="none"/>
<path d="M1592.6,741.3 L1609.5,734.1 L1625.5,729.4 L1658.5,716.6 L1674.5,712.0 L1722.6,705.5 L1760.3,703.0 L1794.2,703.0 L1845.0,704.5 L1896.9,703.4" stroke="#66B132" stroke-width="1.95" fill="none" stroke-linejoin="round" stroke-linecap="butt"/>
<text transform="translate(1585.90,620.20) scale(1.0106,1)" font-family='"Liberation Sans", sans-serif' font-size="31.3" font-weight="normal" fill="#66B132" stroke="#66B132" stroke-width="0.3">Q</text>
<text transform="translate(1610.40,620.20) scale(1.0098,1)" font-family='"Liberation Sans", sans-serif' font-size="30" font-weight="normal" fill="#66B132" stroke="#66B132" stroke-width="0.3">uality</text>
<text transform="translate(1688.06,620.20) scale(0.9785,1)" font-family='"Liberation Sans", sans-serif' font-size="30" font-weight="normal" fill="#66B132" stroke="#66B132" stroke-width="0.3">and</text>
<text transform="translate(1744.52,620.20) scale(1.0410,1)" font-family='"Liberation Sans", sans-serif' font-size="30" font-weight="normal" fill="#66B132" stroke="#66B132" stroke-width="0.3">quantity</text>
<text transform="translate(1585.86,652.10) scale(1.0533,1)" font-family='"Liberation Sans", sans-serif' font-size="30" font-weight="normal" fill="#66B132" stroke="#66B132" stroke-width="0.3">of</text>
<text transform="translate(1621.21,652.10) scale(0.9606,1)" font-family='"Liberation Sans", sans-serif' font-size="30" font-weight="normal" fill="#66B132" stroke="#66B132" stroke-width="0.3">service</text>
<text transform="translate(1719.75,652.10) scale(0.7402,1)" font-family='"Liberation Sans", sans-serif' font-size="31.3" font-weight="normal" fill="#66B132" stroke="#66B132" stroke-width="0.3">J</text>
<rect x="33.19" y="854.48" width="356.48" height="247.01" fill="#f6f6f6" stroke="#d0d0d0" stroke-width="1.3"/>
<path d="M58.25,1083.65 H365.74" stroke="#8e8e8e" stroke-width="1.3" fill="none"/>
<path d="M93.41,1083.65 v3.6 M127.06,1083.65 v3.6 M160.71,1083.65 v3.6 M194.36,1083.65 v3.6 M228.01,1083.65 v3.6 M261.66,1083.65 v3.6 M295.31,1083.65 v3.6 M328.96,1083.65 v3.6 M362.61,1083.65 v3.6 " stroke="#808080" stroke-width="1" fill="none"/>
<path d="M59.76,1083.65 v3.4" stroke="#c0c0c0" stroke-width="1.5" fill="none"/>
<path d="M62.4,1065.1 L85.9,1070.4 L108.9,1065.3 L132.1,1070.4 L155.3,1065.3 L177.9,1070.4" stroke="#BD0B3B" stroke-width="1.95" fill="none" stroke-linejoin="round" stroke-linecap="butt"/>
<path d="M177.9,1070.4 L223.9,1070.4" stroke="#00847e" stroke-width="1.95" fill="none" stroke-linejoin="round" stroke-linecap="butt"/>
<path d="M223.9,1070.4 L247.4,1065.3 L270.0,1070.4" stroke="#BD0B3B" stroke-width="1.95" fill="none" stroke-linejoin="round" stroke-linecap="butt"/>
<path d="M270.0,1070.4 L287.5,1070.4" stroke="#00847e" stroke-width="1.95" fill="none" stroke-linejoin="round" stroke-linecap="butt"/>
<path d="M287.5,1070.4 L304.9,1058.5 L328.1,1022.4 L336.0,999.6 L350.1,928.9 L358.8,902.5 L366.3,867.7" stroke="#BD0B3B" stroke-width="1.95" fill="none" stroke-linejoin="round" stroke-linecap="butt"/>
<text transform="translate(52.90,893.00) scale(1.0106,1)" font-family='"Liberation Sans", sans-serif' font-size="31.3" font-weight="normal" fill="#BD0B3B" stroke="#BD0B3B" stroke-width="0.3">Q</text>
<text transform="translate(77.40,893.00) scale(1.0098,1)" font-family='"Liberation Sans", sans-serif' font-size="30" font-weight="normal" fill="#BD0B3B" stroke="#BD0B3B" stroke-width="0.3">uality</text>
<text transform="translate(155.06,893.00) scale(0.9785,1)" font-family='"Liberation Sans", sans-serif' font-size="30" font-weight="normal" fill="#BD0B3B" stroke="#BD0B3B" stroke-width="0.3">and</text>
<text transform="translate(211.52,893.00) scale(1.0410,1)" font-family='"Liberation Sans", sans-serif' font-size="30" font-weight="normal" fill="#BD0B3B" stroke="#BD0B3B" stroke-width="0.3">quantity</text>
<text transform="translate(52.86,924.90) scale(1.0533,1)" font-family='"Liberation Sans", sans-serif' font-size="30" font-weight="normal" fill="#BD0B3B" stroke="#BD0B3B" stroke-width="0.3">of</text>
<text transform="translate(86.84,924.90) scale(0.9913,1)" font-family='"Liberation Sans", sans-serif' font-size="30" font-weight="normal" fill="#BD0B3B" stroke="#BD0B3B" stroke-width="0.3">good</text>
<text transform="translate(161.83,924.90) scale(0.8726,1)" font-family='"Liberation Sans", sans-serif' font-size="31.3" font-weight="normal" fill="#BD0B3B" stroke="#BD0B3B" stroke-width="0.3">K</text>
<rect x="416.57" y="854.48" width="356.67" height="247.01" fill="#f6f6f6" stroke="#d0d0d0" stroke-width="1.3"/>
<path d="M441.25,1083.65 H748.74" stroke="#8e8e8e" stroke-width="1.3" fill="none"/>
<path d="M476.97,1083.65 v3.6 M510.62,1083.65 v3.6 M544.27,1083.65 v3.6 M577.92,1083.65 v3.6 M611.57,1083.65 v3.6 M645.22,1083.65 v3.6 M678.87,1083.65 v3.6 M712.52,1083.65 v3.6 M746.17,1083.65 v3.6 " stroke="#808080" stroke-width="1" fill="none"/>
<path d="M443.32,1083.65 v3.4" stroke="#c0c0c0" stroke-width="1.5" fill="none"/>
<path d="M443.1,1025.7 L467.1,1028.4 L490.0,1025.7 L513.6,1028.4 L536.4,1025.7 L570.7,1028.4 L640.0,1028.4 L674.3,1010.5 L708.2,1011.8 L715.8,1011.8 L722.9,1008.6 L731.8,1000.1 L735.0,994.8 L741.2,959.0 L747.2,932.7" stroke="#FBB500" stroke-width="1.95" fill="none" stroke-linejoin="round" stroke-linecap="butt"/>
<text transform="translate(435.90,893.00) scale(1.0106,1)" font-family='"Liberation Sans", sans-serif' font-size="31.3" font-weight="normal" fill="#E1920F" stroke="#E1920F" stroke-width="0.3">Q</text>
<text transform="translate(460.40,893.00) scale(1.0098,1)" font-family='"Liberation Sans", sans-serif' font-size="30" font-weight="normal" fill="#E1920F" stroke="#E1920F" stroke-width="0.3">uality</text>
<text transform="translate(538.06,893.00) scale(0.9785,1)" font-family='"Liberation Sans", sans-serif' font-size="30" font-weight="normal" fill="#E1920F" stroke="#E1920F" stroke-width="0.3">and</text>
<text transform="translate(594.52,893.00) scale(1.0410,1)" font-family='"Liberation Sans", sans-serif' font-size="30" font-weight="normal" fill="#E1920F" stroke="#E1920F" stroke-width="0.3">quantity</text>
<text transform="translate(435.86,924.90) scale(1.0533,1)" font-family='"Liberation Sans", sans-serif' font-size="30" font-weight="normal" fill="#E1920F" stroke="#E1920F" stroke-width="0.3">of</text>
<text transform="translate(471.21,924.90) scale(0.9606,1)" font-family='"Liberation Sans", sans-serif' font-size="30" font-weight="normal" fill="#E1920F" stroke="#E1920F" stroke-width="0.3">service</text>
<text transform="translate(570.86,924.90) scale(0.8541,1)" font-family='"Liberation Sans", sans-serif' font-size="31.3" font-weight="normal" fill="#E1920F" stroke="#E1920F" stroke-width="0.3">L</text>
<rect x="800.13" y="854.48" width="356.48" height="247.01" fill="#f6f6f6" stroke="#d0d0d0" stroke-width="1.3"/>
<path d="M824.25,1083.65 H1132.11" stroke="#8e8e8e" stroke-width="1.3" fill="none"/>
<path d="M860.16,1083.65 v3.6 M893.81,1083.65 v3.6 M927.46,1083.65 v3.6 M961.11,1083.65 v3.6 M994.76,1083.65 v3.6 M1028.41,1083.65 v3.6 M1062.06,1083.65 v3.6 M1095.71,1083.65 v3.6 M1129.36,1083.65 v3.6 " stroke="#808080" stroke-width="1" fill="none"/>
<path d="M826.51,1083.65 v3.4" stroke="#c0c0c0" stroke-width="1.5" fill="none"/>
<path d="M825.9,1061.7 L844.4,1051.7 L862.3,1061.5 L880.2,1051.7 L898.3,1061.5 L916.0,1051.7 L952.2,1051.7 L969.9,1061.5 L987.6,1051.7 L1005.7,1061.5 L1041.5,1041.9 L1050.2,1025.4 L1054.3,1033.5 L1058.4,1025.4 L1066.7,1041.9 L1070.9,1033.5 L1075.2,1033.5 L1079.4,1017.5 L1082.7,991.1 L1085.2,964.7 L1086.7,933.6 L1090.9,925.7 L1091.8,926.1 L1092.4,959.0 L1094.1,994.8 L1095.8,1025.0 L1097.6,1047.0 L1101.6,1047.0 L1105.2,1057.0 L1117.0,1058.9 L1129.9,1072.1" stroke="#C70A80" stroke-width="1.95" fill="none" stroke-linejoin="round" stroke-linecap="butt"/>
<text transform="translate(818.90,893.00) scale(1.0106,1)" font-family='"Liberation Sans", sans-serif' font-size="31.3" font-weight="normal" fill="#C70A80" stroke="#C70A80" stroke-width="0.3">Q</text>
<text transform="translate(843.40,893.00) scale(1.0098,1)" font-family='"Liberation Sans", sans-serif' font-size="30" font-weight="normal" fill="#C70A80" stroke="#C70A80" stroke-width="0.3">uality</text>
<text transform="translate(921.06,893.00) scale(0.9785,1)" font-family='"Liberation Sans", sans-serif' font-size="30" font-weight="normal" fill="#C70A80" stroke="#C70A80" stroke-width="0.3">and</text>
<text transform="translate(977.52,893.00) scale(1.0410,1)" font-family='"Liberation Sans", sans-serif' font-size="30" font-weight="normal" fill="#C70A80" stroke="#C70A80" stroke-width="0.3">quantity</text>
<text transform="translate(818.86,924.90) scale(1.0533,1)" font-family='"Liberation Sans", sans-serif' font-size="30" font-weight="normal" fill="#C70A80" stroke="#C70A80" stroke-width="0.3">of</text>
<text transform="translate(852.84,924.90) scale(0.9913,1)" font-family='"Liberation Sans", sans-serif' font-size="30" font-weight="normal" fill="#C70A80" stroke="#C70A80" stroke-width="0.3">good</text>
<text transform="translate(927.10,924.90) scale(1.0448,1)" font-family='"Liberation Sans", sans-serif' font-size="31.3" font-weight="normal" fill="#C70A80" stroke="#C70A80" stroke-width="0.3">M</text>
<rect x="1183.32" y="854.48" width="356.48" height="247.01" fill="#f6f6f6" stroke="#d0d0d0" stroke-width="1.3"/>
<path d="M1207.81,1083.65 H1515.68" stroke="#8e8e8e" stroke-width="1.3" fill="none"/>
<path d="M1243.72,1083.65 v3.6 M1277.37,1083.65 v3.6 M1311.03,1083.65 v3.6 M1344.68,1083.65 v3.6 M1378.33,1083.65 v3.6 M1411.98,1083.65 v3.6 M1445.63,1083.65 v3.6 M1479.28,1083.65 v3.6 M1512.93,1083.65 v3.6 " stroke="#808080" stroke-width="1" fill="none"/>
<path d="M1210.07,1083.65 v3.4" stroke="#c0c0c0" stroke-width="1.5" fill="none"/>
<path d="M1207.1,963.4 L1229.3,964.7 L1252.8,963.4 L1276.4,964.7 L1299.6,963.4 L1322.6,964.5 L1346.1,964.5 L1368.7,960.6 L1407.3,955.7 L1428.1,949.6 L1469.5,932.7 L1489.3,926.6 L1511.3,918.7" stroke="#E6302A" stroke-width="1.95" fill="none" stroke-linejoin="round" stroke-linecap="butt"/>
<text transform="translate(1202.47,893.00) scale(1.0106,1)" font-family='"Liberation Sans", sans-serif' font-size="31.3" font-weight="normal" fill="#E6302A" stroke="#E6302A" stroke-width="0.3">Q</text>
<text transform="translate(1226.96,893.00) scale(1.0098,1)" font-family='"Liberation Sans", sans-serif' font-size="30" font-weight="normal" fill="#E6302A" stroke="#E6302A" stroke-width="0.3">uality</text>
<text transform="translate(1304.62,893.00) scale(0.9785,1)" font-family='"Liberation Sans", sans-serif' font-size="30" font-weight="normal" fill="#E6302A" stroke="#E6302A" stroke-width="0.3">and</text>
<text transform="translate(1361.08,893.00) scale(1.0410,1)" font-family='"Liberation Sans", sans-serif' font-size="30" font-weight="normal" fill="#E6302A" stroke="#E6302A" stroke-width="0.3">quantity</text>
<text transform="translate(1202.43,924.90) scale(1.0533,1)" font-family='"Liberation Sans", sans-serif' font-size="30" font-weight="normal" fill="#E6302A" stroke="#E6302A" stroke-width="0.3">of</text>
<text transform="translate(1237.77,924.90) scale(0.9606,1)" font-family='"Liberation Sans", sans-serif' font-size="30" font-weight="normal" fill="#E6302A" stroke="#E6302A" stroke-width="0.3">service</text>
<text transform="translate(1337.59,924.90) scale(0.9619,1)" font-family='"Liberation Sans", sans-serif' font-size="31.3" font-weight="normal" fill="#E6302A" stroke="#E6302A" stroke-width="0.3">N</text>
<rect x="1566.57" y="854.48" width="356.67" height="247.01" fill="#f6f6f6" stroke="#d0d0d0" stroke-width="1.3"/>
<path d="M1591.25,1083.65 H1898.74" stroke="#8e8e8e" stroke-width="1.3" fill="none"/>
<path d="M1626.97,1083.65 v3.6 M1660.62,1083.65 v3.6 M1694.27,1083.65 v3.6 M1727.92,1083.65 v3.6 M1761.57,1083.65 v3.6 M1795.22,1083.65 v3.6 M1828.87,1083.65 v3.6 M1862.52,1083.65 v3.6 M1896.17,1083.65 v3.6 " stroke="#808080" stroke-width="1" fill="none"/>
<path d="M1593.32,1083.65 v3.4" stroke="#c0c0c0" stroke-width="1.5" fill="none"/>
<path d="M1594.5,1071.7 L1607.6,1074.5 L1619.9,1071.7 L1632.5,1074.5 L1644.6,1071.7 L1657.6,1074.5 L1681.9,1074.5 L1693.9,1071.7 L1706.6,1074.5 L1719.6,1071.7 L1746.1,1076.2 L1774.6,1076.2 L1802.1,1071.7 L1837.5,1058.5 L1850.1,1049.5 L1873.9,1022.7 L1886.1,1013.7 L1898.4,1000.1" stroke="#EC6812" stroke-width="1.95" fill="none" stroke-linejoin="round" stroke-linecap="butt"/>
<text transform="translate(1585.90,893.00) scale(1.0106,1)" font-family='"Liberation Sans", sans-serif' font-size="31.3" font-weight="normal" fill="#BE4870" stroke="#BE4870" stroke-width="0.3">Q</text>
<text transform="translate(1610.40,893.00) scale(1.0098,1)" font-family='"Liberation Sans", sans-serif' font-size="30" font-weight="normal" fill="#BE4870" stroke="#BE4870" stroke-width="0.3">uality</text>
<text transform="translate(1688.06,893.00) scale(0.9785,1)" font-family='"Liberation Sans", sans-serif' font-size="30" font-weight="normal" fill="#BE4870" stroke="#BE4870" stroke-width="0.3">and</text>
<text transform="translate(1744.52,893.00) scale(1.0410,1)" font-family='"Liberation Sans", sans-serif' font-size="30" font-weight="normal" fill="#BE4870" stroke="#BE4870" stroke-width="0.3">quantity</text>
<text transform="translate(1585.86,924.90) scale(1.0533,1)" font-family='"Liberation Sans", sans-serif' font-size="30" font-weight="normal" fill="#BE4870" stroke="#BE4870" stroke-width="0.3">of</text>
<text transform="translate(1619.84,924.90) scale(0.9913,1)" font-family='"Liberation Sans", sans-serif' font-size="30" font-weight="normal" fill="#BE4870" stroke="#BE4870" stroke-width="0.3">good</text>
<text transform="translate(1693.68,924.90) scale(1.0106,1)" font-family='"Liberation Sans", sans-serif' font-size="31.3" font-weight="normal" fill="#BE4870" stroke="#BE4870" stroke-width="0.3">O</text>
<rect x="33.19" y="1127.48" width="356.48" height="247.01" fill="#f6f6f6" stroke="#d0d0d0" stroke-width="1.3"/>
<path d="M58.25,1357.05 H365.74" stroke="#a8a8a8" stroke-width="1.85" fill="none"/>
<path d="M93.41,1357.05 v3.6 M127.06,1357.05 v3.6 M160.71,1357.05 v3.6 M194.36,1357.05 v3.6 M228.01,1357.05 v3.6 M261.66,1357.05 v3.6 M295.31,1357.05 v3.6 M328.96,1357.05 v3.6 M362.61,1357.05 v3.6 " stroke="#808080" stroke-width="1" fill="none"/>
<path d="M59.76,1357.05 v3.4" stroke="#c0c0c0" stroke-width="1.5" fill="none"/>
<path d="M62.2,1319.8 L85.9,1321.2 L108.6,1319.8 L132.1,1321.2 L155.3,1319.8 L178.3,1321.0 L225.4,1321.0 L248.0,1319.8 L270.6,1321.0 L288.5,1321.0 L304.5,1318.3 L328.1,1310.2 L336.5,1303.6 L349.7,1289.5 L358.2,1283.3 L366.3,1275.0" stroke="#642E8E" stroke-width="1.95" fill="none" stroke-linejoin="round" stroke-linecap="butt"/>
<text transform="translate(52.90,1165.70) scale(1.0106,1)" font-family='"Liberation Sans", sans-serif' font-size="31.3" font-weight="normal" fill="#642E8E" stroke="#642E8E" stroke-width="0.3">Q</text>
<text transform="translate(77.40,1165.70) scale(1.0098,1)" font-family='"Liberation Sans", sans-serif' font-size="30" font-weight="normal" fill="#642E8E" stroke="#642E8E" stroke-width="0.3">uality</text>
<text transform="translate(155.06,1165.70) scale(0.9785,1)" font-family='"Liberation Sans", sans-serif' font-size="30" font-weight="normal" fill="#642E8E" stroke="#642E8E" stroke-width="0.3">and</text>
<text transform="translate(211.52,1165.70) scale(1.0410,1)" font-family='"Liberation Sans", sans-serif' font-size="30" font-weight="normal" fill="#642E8E" stroke="#642E8E" stroke-width="0.3">quantity</text>
<text transform="translate(52.86,1197.60) scale(1.0533,1)" font-family='"Liberation Sans", sans-serif' font-size="30" font-weight="normal" fill="#642E8E" stroke="#642E8E" stroke-width="0.3">of</text>
<text transform="translate(88.21,1197.60) scale(0.9606,1)" font-family='"Liberation Sans", sans-serif' font-size="30" font-weight="normal" fill="#642E8E" stroke="#642E8E" stroke-width="0.3">service</text>
<text transform="translate(187.94,1197.60) scale(0.8165,1)" font-family='"Liberation Sans", sans-serif' font-size="31.3" font-weight="normal" fill="#642E8E" stroke="#642E8E" stroke-width="0.3">P</text>
<rect x="416.57" y="1127.48" width="356.67" height="247.01" fill="#f6f6f6" stroke="#d0d0d0" stroke-width="1.3"/>
<path d="M441.25,1357.05 H748.74" stroke="#a8a8a8" stroke-width="1.85" fill="none"/>
<path d="M476.97,1357.05 v3.6 M510.62,1357.05 v3.6 M544.27,1357.05 v3.6 M577.92,1357.05 v3.6 M611.57,1357.05 v3.6 M645.22,1357.05 v3.6 M678.87,1357.05 v3.6 M712.52,1357.05 v3.6 M746.17,1357.05 v3.6 " stroke="#808080" stroke-width="1" fill="none"/>
<path d="M443.32,1357.05 v3.4" stroke="#c0c0c0" stroke-width="1.5" fill="none"/>
<path d="M453.3,1341.7 L476.9,1347.0 L500.0,1341.9 L523.6,1347.0 L546.2,1341.9 L569.2,1347.0 L615.5,1347.0 L638.5,1341.9 L661.5,1347.0 L679.2,1347.0 L696.4,1334.9 L719.2,1299.5 L727.1,1276.3 L741.6,1205.7 L749.7,1180.2 L757.2,1143.9" stroke="#0282CC" stroke-width="1.95" fill="none" stroke-linejoin="round" stroke-linecap="butt"/>
<text transform="translate(434.96,1165.70) scale(1.0106,1)" font-family='"Liberation Sans", sans-serif' font-size="31.3" font-weight="normal" fill="#0282CC" stroke="#0282CC" stroke-width="0.3">Q</text>
<text transform="translate(459.46,1165.70) scale(1.0098,1)" font-family='"Liberation Sans", sans-serif' font-size="30" font-weight="normal" fill="#0282CC" stroke="#0282CC" stroke-width="0.3">uality</text>
<text transform="translate(537.11,1165.70) scale(0.9785,1)" font-family='"Liberation Sans", sans-serif' font-size="30" font-weight="normal" fill="#0282CC" stroke="#0282CC" stroke-width="0.3">and</text>
<text transform="translate(593.57,1165.70) scale(1.0410,1)" font-family='"Liberation Sans", sans-serif' font-size="30" font-weight="normal" fill="#0282CC" stroke="#0282CC" stroke-width="0.3">quantity</text>
<text transform="translate(434.92,1197.60) scale(1.0533,1)" font-family='"Liberation Sans", sans-serif' font-size="30" font-weight="normal" fill="#0282CC" stroke="#0282CC" stroke-width="0.3">of</text>
<text transform="translate(468.90,1197.60) scale(0.9913,1)" font-family='"Liberation Sans", sans-serif' font-size="30" font-weight="normal" fill="#0282CC" stroke="#0282CC" stroke-width="0.3">good</text>
<text transform="translate(542.95,1197.60) scale(0.9849,1)" font-family='"Liberation Sans", sans-serif' font-size="31.3" font-weight="normal" fill="#0282CC" stroke="#0282CC" stroke-width="0.3">Q</text>
<rect x="800.13" y="1127.48" width="356.48" height="247.01" fill="#f6f6f6" stroke="#d0d0d0" stroke-width="1.3"/>
<path d="M824.25,1357.05 H1132.11" stroke="#a8a8a8" stroke-width="1.85" fill="none"/>
<path d="M860.16,1357.05 v3.6 M893.81,1357.05 v3.6 M927.46,1357.05 v3.6 M961.11,1357.05 v3.6 M994.76,1357.05 v3.6 M1028.41,1357.05 v3.6 M1062.06,1357.05 v3.6 M1095.71,1357.05 v3.6 M1129.36,1357.05 v3.6 " stroke="#808080" stroke-width="1" fill="none"/>
<path d="M826.51,1357.05 v3.4" stroke="#c0c0c0" stroke-width="1.5" fill="none"/>
<path d="M826.7,1256.5 L850.1,1254.7 L873.6,1256.7 L896.8,1254.7 L919.8,1256.7 L953.7,1254.3 L989.5,1254.3 L1049.8,1252.8 L1070.5,1252.8 L1082.7,1256.5 L1100.3,1267.8 L1106.3,1275.4 L1118.0,1297.0 L1124.6,1306.1 L1130.8,1317.2" stroke="#3B4D6E" stroke-width="1.95" fill="none" stroke-linejoin="round" stroke-linecap="butt"/>
<text transform="translate(818.90,1165.70) scale(1.0106,1)" font-family='"Liberation Sans", sans-serif' font-size="31.3" font-weight="normal" fill="#3B4D6E" stroke="#3B4D6E" stroke-width="0.3">Q</text>
<text transform="translate(843.40,1165.70) scale(1.0098,1)" font-family='"Liberation Sans", sans-serif' font-size="30" font-weight="normal" fill="#3B4D6E" stroke="#3B4D6E" stroke-width="0.3">uality</text>
<text transform="translate(921.06,1165.70) scale(0.9785,1)" font-family='"Liberation Sans", sans-serif' font-size="30" font-weight="normal" fill="#3B4D6E" stroke="#3B4D6E" stroke-width="0.3">and</text>
<text transform="translate(977.52,1165.70) scale(1.0410,1)" font-family='"Liberation Sans", sans-serif' font-size="30" font-weight="normal" fill="#3B4D6E" stroke="#3B4D6E" stroke-width="0.3">quantity</text>
<text transform="translate(818.86,1197.60) scale(1.0533,1)" font-family='"Liberation Sans", sans-serif' font-size="30" font-weight="normal" fill="#3B4D6E" stroke="#3B4D6E" stroke-width="0.3">of</text>
<text transform="translate(854.21,1197.60) scale(0.9606,1)" font-family='"Liberation Sans", sans-serif' font-size="30" font-weight="normal" fill="#3B4D6E" stroke="#3B4D6E" stroke-width="0.3">service</text>
<text transform="translate(953.97,1197.60) scale(0.8008,1)" font-family='"Liberation Sans", sans-serif' font-size="31.3" font-weight="normal" fill="#3B4D6E" stroke="#3B4D6E" stroke-width="0.3">R</text>
<rect x="1183.32" y="1127.48" width="356.48" height="247.01" fill="#f6f6f6" stroke="#d0d0d0" stroke-width="1.3"/>
<path d="M1207.81,1357.05 H1515.68" stroke="#a8a8a8" stroke-width="1.85" fill="none"/>
<path d="M1243.72,1357.05 v3.6 M1277.37,1357.05 v3.6 M1311.03,1357.05 v3.6 M1344.68,1357.05 v3.6 M1378.33,1357.05 v3.6 M1411.98,1357.05 v3.6 M1445.63,1357.05 v3.6 M1479.28,1357.05 v3.6 M1512.93,1357.05 v3.6 " stroke="#808080" stroke-width="1" fill="none"/>
<path d="M1210.07,1357.05 v3.4" stroke="#c0c0c0" stroke-width="1.5" fill="none"/>
<path d="M1210.5,1330.4 L1223.6,1336.8 L1235.7,1330.6 L1248.1,1336.8 L1260.6,1330.6 L1273.0,1336.6 L1297.9,1336.6 L1309.9,1330.6 L1322.6,1336.8 L1368.7,1330.6 L1462.4,1342.6 L1472.0,1342.6 L1481.8,1330.0 L1494.0,1294.2 L1497.8,1269.7 L1506.3,1198.1 L1510.4,1171.8 L1514.2,1136.9" stroke="#BD0B3B" stroke-width="1.95" fill="none" stroke-linejoin="round" stroke-linecap="butt"/>
<text transform="translate(1202.47,1165.70) scale(1.0106,1)" font-family='"Liberation Sans", sans-serif' font-size="31.3" font-weight="normal" fill="#BD0B3B" stroke="#BD0B3B" stroke-width="0.3">Q</text>
<text transform="translate(1226.96,1165.70) scale(1.0098,1)" font-family='"Liberation Sans", sans-serif' font-size="30" font-weight="normal" fill="#BD0B3B" stroke="#BD0B3B" stroke-width="0.3">uality</text>
<text transform="translate(1304.62,1165.70) scale(0.9785,1)" font-family='"Liberation Sans", sans-serif' font-size="30" font-weight="normal" fill="#BD0B3B" stroke="#BD0B3B" stroke-width="0.3">and</text>
<text transform="translate(1361.08,1165.70) scale(1.0410,1)" font-family='"Liberation Sans", sans-serif' font-size="30" font-weight="normal" fill="#BD0B3B" stroke="#BD0B3B" stroke-width="0.3">quantity</text>
<text transform="translate(1202.43,1197.60) scale(1.0533,1)" font-family='"Liberation Sans", sans-serif' font-size="30" font-weight="normal" fill="#BD0B3B" stroke="#BD0B3B" stroke-width="0.3">of</text>
<text transform="translate(1236.40,1197.60) scale(0.9913,1)" font-family='"Liberation Sans", sans-serif' font-size="30" font-weight="normal" fill="#BD0B3B" stroke="#BD0B3B" stroke-width="0.3">good</text>
<text transform="translate(1311.10,1197.60) scale(0.7140,1)" font-family='"Liberation Sans", sans-serif' font-size="31.3" font-weight="normal" fill="#BD0B3B" stroke="#BD0B3B" stroke-width="0.3">S</text>
<rect x="1566.57" y="1127.48" width="356.67" height="247.01" fill="#f6f6f6" stroke="#d0d0d0" stroke-width="1.3"/>
<path d="M1591.25,1357.05 H1898.74" stroke="#a8a8a8" stroke-width="1.85" fill="none"/>
<path d="M1626.97,1357.05 v3.6 M1660.62,1357.05 v3.6 M1694.27,1357.05 v3.6 M1727.92,1357.05 v3.6 M1761.57,1357.05 v3.6 M1795.22,1357.05 v3.6 M1828.87,1357.05 v3.6 M1862.52,1357.05 v3.6 M1896.17,1357.05 v3.6 " stroke="#808080" stroke-width="1" fill="none"/>
<path d="M1593.32,1357.05 v3.4" stroke="#c0c0c0" stroke-width="1.5" fill="none"/>
<path d="M1599.2,1309.1 L1607.6,1309.7 L1629.3,1309.7 L1657.6,1305.5 L1675.5,1305.5 L1686.8,1306.1 L1716.9,1301.4 L1728.2,1302.1 L1747.1,1302.1 L1803.6,1298.6 L1831.9,1294.8 L1862.9,1294.8 L1883.1,1290.8 L1886.5,1286.7 L1889.9,1280.7 L1892.7,1269.7 L1896.9,1250.9 L1902.9,1229.2" stroke="#A93902" stroke-width="1.95" fill="none" stroke-linejoin="round" stroke-linecap="butt"/>
<text transform="translate(1585.90,1165.70) scale(1.0106,1)" font-family='"Liberation Sans", sans-serif' font-size="31.3" font-weight="normal" fill="#A93902" stroke="#A93902" stroke-width="0.3">Q</text>
<text transform="translate(1610.40,1165.70) scale(1.0098,1)" font-family='"Liberation Sans", sans-serif' font-size="30" font-weight="normal" fill="#A93902" stroke="#A93902" stroke-width="0.3">uality</text>
<text transform="translate(1688.06,1165.70) scale(0.9785,1)" font-family='"Liberation Sans", sans-serif' font-size="30" font-weight="normal" fill="#A93902" stroke="#A93902" stroke-width="0.3">and</text>
<text transform="translate(1744.52,1165.70) scale(1.0410,1)" font-family='"Liberation Sans", sans-serif' font-size="30" font-weight="normal" fill="#A93902" stroke="#A93902" stroke-width="0.3">quantity</text>
<text transform="translate(1585.86,1197.60) scale(1.0533,1)" font-family='"Liberation Sans", sans-serif' font-size="30" font-weight="normal" fill="#A93902" stroke="#A93902" stroke-width="0.3">of</text>
<text transform="translate(1621.21,1197.60) scale(0.9606,1)" font-family='"Liberation Sans", sans-serif' font-size="30" font-weight="normal" fill="#A93902" stroke="#A93902" stroke-width="0.3">service</text>
<text transform="translate(1719.75,1197.60) scale(0.8726,1)" font-family='"Liberation Sans", sans-serif' font-size="31.3" font-weight="normal" fill="#A93902" stroke="#A93902" stroke-width="0.3">T</text>
<path fill="#00847e" d="M1942.1,315.7 H1953.4 C1966,315.7 1973.5,323 1973.5,339.1 V797 C1973.5,812 1978,820.1 1992,820.1 H2022.3 L2018.1,811.4 L2043.9,822.4 L2018.1,832.9 L2022.3,824.6 H1990 C1974,824.6 1966.4,815 1966.4,797 V341.5 C1966.4,327 1961,319.8 1949.5,319.8 H1942.1 Z"/>
<path fill="#00847e" d="M1942.1,1369.7 H1953.4 C1966,1369.7 1973.7,1362 1973.7,1344.3 V896 C1973.7,881 1978,873.1 1992,873.1 H2022.3 L2018.1,881.8 L2043.6,870.9 L2018.1,860.2 L2022.3,868.6 H1990 C1974,868.6 1966.4,878 1966.4,896 V1345.3 C1966.4,1358 1961,1365.1 1950.5,1365.1 H1942.1 Z"/>
<path fill="#00847e" d="M2209.0,647.6 C2167.9,647.6 2112.2,671.0 2112.2,723.8 C2112.2,750.2 2126.9,767.2 2141.6,767.2 C2154.8,767.2 2163.3,756.1 2163.3,742.9 C2163.3,726.7 2146.3,720.9 2146.3,701.8 C2146.3,681.3 2167.9,667.5 2197.3,667.5 C2232.4,667.5 2255.3,697.4 2255.3,735.5 C2255.3,794.2 2198.7,852.8 2197.0,932.5 L2209.6,932.5 C2211.3,885.0 2244.2,852.8 2267.6,826.4 C2291.1,800.0 2311.0,767.8 2311.0,726.7 C2311.0,679.8 2267.6,647.6 2209.0,647.6 Z"/>
<circle cx="2205.5" cy="995.6" r="29.9" fill="#00847e"/>
<text transform="translate(1999.50,1100.30) scale(0.9495,1)" font-family='"Liberation Sans", sans-serif' font-size="30" font-weight="normal" fill="#00847e" stroke="#00847e" stroke-width="0.3">Aggregate</text>
<text transform="translate(2137.83,1100.30) scale(0.9374,1)" font-family='"Liberation Sans", sans-serif' font-size="30" font-weight="normal" fill="#00847e" stroke="#00847e" stroke-width="0.3">measure</text>
<text transform="translate(2254.66,1100.30) scale(1.0371,1)" font-family='"Liberation Sans", sans-serif' font-size="30" font-weight="normal" fill="#00847e" stroke="#00847e" stroke-width="0.3">of</text>
<text transform="translate(2289.20,1100.30) scale(0.9849,1)" font-family='"Liberation Sans", sans-serif' font-size="30" font-weight="normal" fill="#00847e" stroke="#00847e" stroke-width="0.3">the</text>
<text transform="translate(2337.69,1100.30) scale(1.0056,1)" font-family='"Liberation Sans", sans-serif' font-size="30" font-weight="normal" fill="#00847e" stroke="#00847e" stroke-width="0.3">quality</text>
<text transform="translate(1988.15,1130.30) scale(0.9479,1)" font-family='"Liberation Sans", sans-serif' font-size="30" font-weight="normal" fill="#00847e" stroke="#00847e" stroke-width="0.3">and</text>
<text transform="translate(2042.89,1130.30) scale(1.0118,1)" font-family='"Liberation Sans", sans-serif' font-size="30" font-weight="normal" fill="#00847e" stroke="#00847e" stroke-width="0.3">quantity</text>
<text transform="translate(2157.45,1130.30) scale(1.0452,1)" font-family='"Liberation Sans", sans-serif' font-size="30" font-weight="normal" fill="#00847e" stroke="#00847e" stroke-width="0.3">of</text>
<text transform="translate(2190.85,1130.30) scale(0.9507,1)" font-family='"Liberation Sans", sans-serif' font-size="30" font-weight="normal" fill="#00847e" stroke="#00847e" stroke-width="0.3">all</text>
<text transform="translate(2226.34,1130.30) scale(0.9592,1)" font-family='"Liberation Sans", sans-serif' font-size="30" font-weight="normal" fill="#00847e" stroke="#00847e" stroke-width="0.3">economic</text>
<text transform="translate(2358.05,1130.30) scale(0.9506,1)" font-family='"Liberation Sans", sans-serif' font-size="30" font-weight="normal" fill="#00847e" stroke="#00847e" stroke-width="0.3">goods</text>
<text transform="translate(29.70,1409.95) scale(0.8973,1)" font-family='"Liberation Sans", sans-serif' font-size="24" font-weight="normal" fill="#707070" >Licensed</text>
<text transform="translate(121.96,1409.95) scale(0.9439,1)" font-family='"Liberation Sans", sans-serif' font-size="24" font-weight="normal" fill="#707070" >under</text>
<text transform="translate(185.81,1409.95) scale(0.8905,1)" font-family='"Liberation Sans", sans-serif' font-size="24" font-weight="normal" fill="#6a68b8" >CC-BY</text>
<text transform="translate(259.15,1409.95) scale(0.8543,1)" font-family='"Liberation Sans", sans-serif' font-size="24" font-weight="normal" fill="#707070" >by</text>
<text transform="translate(288.50,1409.95) scale(0.9389,1)" font-family='"Liberation Sans", sans-serif' font-size="24" font-weight="normal" fill="#707070" >the</text>
<text transform="translate(326.24,1409.95) scale(0.9633,1)" font-family='"Liberation Sans", sans-serif' font-size="24" font-weight="normal" fill="#707070" >author</text>
<text transform="translate(398.50,1409.95) scale(0.8999,1)" font-family='"Liberation Sans", sans-serif' font-size="24" font-weight="normal" fill="#707070" >Max</text>
<text transform="translate(447.04,1409.95) scale(0.8568,1)" font-family='"Liberation Sans", sans-serif' font-size="24" font-weight="normal" fill="#707070" >Roser</text>
</svg>
</body></html>
